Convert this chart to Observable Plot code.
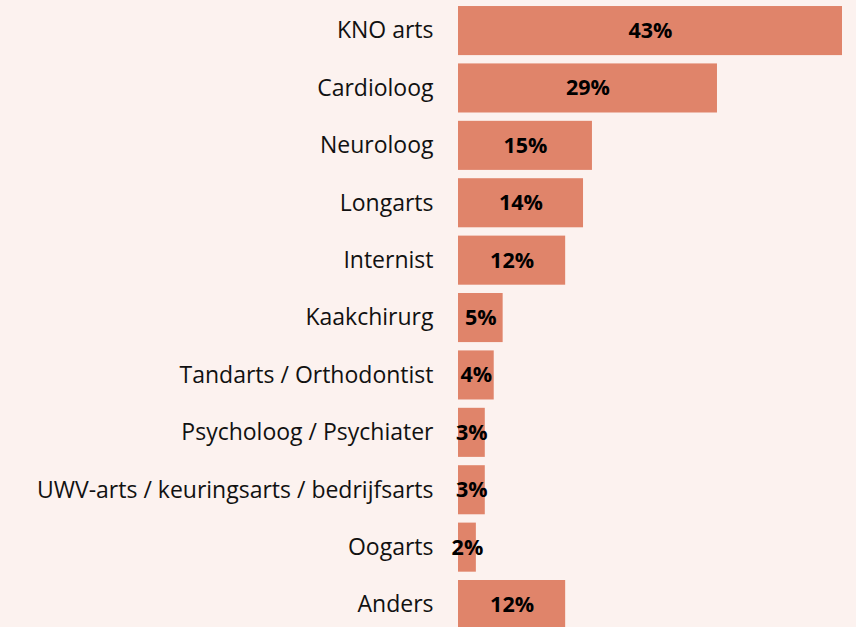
<!DOCTYPE html>
<html><head><meta charset="utf-8">
<script src="https://cdn.jsdelivr.net/npm/d3@7"></script>
<script src="https://cdn.jsdelivr.net/npm/@observablehq/plot@0.6"></script>
<style>
html,body{margin:0;padding:0;background:#fcf2ef;}
#chart svg{display:block;background:#fcf2ef;}
</style></head>
<body><div id="chart"></div>
<script>
const categories = ["KNO arts","Cardioloog","Neuroloog","Longarts","Internist","Kaakchirurg","Tandarts / Orthodontist","Psycholoog / Psychiater","UWV-arts / keuringsarts / bedrijfsarts","Oogarts","Anders"];
const values = [43,29,15,14,12,5,4,3,3,2,12];
const data = categories.map((c,i)=>({cat:c, v:values[i]}));

const chart = Plot.plot({
  width: 856, height: 627,
  marginLeft: 458, marginRight: 14, marginTop: 0, marginBottom: 0,
  style: {background:"#fcf2ef", fontFamily:"'Open Sans', sans-serif"},
  x: {domain:[0,43], axis:null},
  y: {domain: categories, range:[-2.3, 637.4], padding:0.145, round:false, axis:null},
  marks: [
    Plot.barX(data, {y:"cat", x:"v", fill:"#e0846a"}),
    Plot.axisY({tickSize:0, tickPadding:25, fontSize:23, color:"#111", label:null}),
    Plot.text(data, {y:"cat", x:d=>d.v/2, text:d=>d.v+"%", fontSize:21.5, fontWeight:"bold", fill:"#000"})
  ]
});
document.getElementById("chart").appendChild(chart);
</script></body></html>
